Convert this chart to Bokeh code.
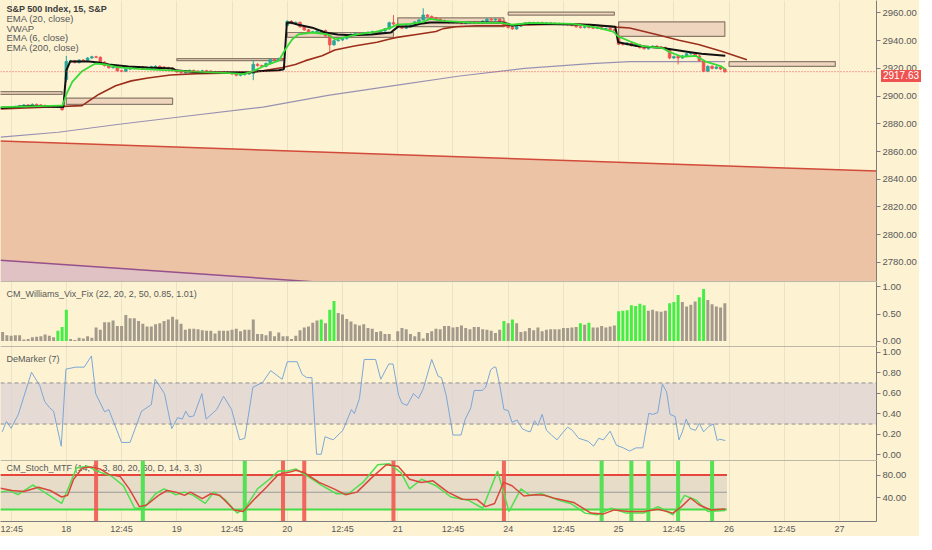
import numpy as np
from bokeh.plotting import figure
from bokeh.layouts import column
from bokeh.models import Range1d, FixedTicker, PrintfTickFormatter, Span, Div, BoxAnnotation
from bokeh.core.properties import value
from bokeh.embed import file_html
from bokeh.resources import INLINE

# ---------------- data (bar index 0 = 9:30 bar of the 18th, 26 bars a session) ----------------
first_bar = -15
closes = (
    # 17th (afternoon)
    [2891.5, 2891.8, 2892.0, 2892.4, 2893.0, 2893.6, 2893.3, 2894.0, 2893.6, 2893.2,
     2892.6, 2892.2, 2892.0, 2892.4, 2890.2]
    # 18th
    + [2925.0, 2925.5, 2924.2, 2926.0, 2925.5, 2927.5, 2928.4, 2928.0, 2924.5, 2922.0,
       2920.5, 2921.0, 2918.3, 2918.0, 2919.5, 2920.0, 2920.5, 2921.0, 2919.5, 2920.0,
       2921.2, 2921.5, 2921.0, 2920.5, 2920.0, 2918.8]
    # 19th
    + [2917.5, 2917.0, 2918.0, 2918.5, 2918.0, 2917.8, 2918.3, 2918.0, 2917.5, 2917.0,
       2917.3, 2916.8, 2917.0, 2916.0, 2915.0, 2915.5, 2916.0, 2916.3, 2923.0, 2922.0,
       2921.5, 2923.5, 2926.5, 2926.0, 2927.0, 2926.5]
    # 20th
    + [2954.0, 2952.5, 2953.2, 2950.0, 2947.8, 2946.0, 2946.5, 2947.0, 2947.3, 2943.5,
       2937.0, 2940.0, 2940.5, 2941.5, 2943.5, 2944.5, 2945.2, 2944.8, 2945.5, 2946.0,
       2946.5, 2946.2, 2947.0, 2948.5, 2953.0, 2952.0]
    # 21st
    + [2950.0, 2949.0, 2950.5, 2951.5, 2953.5, 2955.0, 2958.5, 2957.5, 2956.5, 2955.5,
       2954.5, 2953.5, 2953.0, 2953.5, 2953.0, 2952.5, 2953.0, 2953.2, 2953.0, 2952.8,
       2954.0, 2955.5, 2955.0, 2955.5, 2954.0, 2950.5]
    # 24th
    + [2949.5, 2948.5, 2950.5, 2952.0, 2952.5, 2953.0, 2952.8, 2953.0, 2952.5, 2952.8,
       2952.5, 2952.0, 2952.3, 2951.8, 2951.5, 2951.0, 2950.0, 2949.5, 2950.0, 2949.5,
       2949.0, 2949.3, 2948.5, 2948.8, 2948.0, 2947.5]
    # 25th
    + [2937.5, 2937.2, 2938.3, 2936.5, 2937.0, 2935.0, 2934.2, 2935.5, 2936.0, 2935.5,
       2935.0, 2934.0, 2927.5, 2928.5, 2927.5, 2929.0, 2930.5, 2931.0, 2929.0, 2925.5,
       2918.0, 2921.5, 2920.0, 2921.0, 2919.5, 2917.63]
)
first_open = 2891.2
gap_opens = {0: 2912.0, 52: 2951.0, 130: 2943.5}
long_wicks = {0: (2929.0, 2910.0), 44: (2926.0, 2911.5), 62: (2943.8, 2932.0),
              77: (2958.5, 2951.0), 84: (2963.4, 2954.5), 144: (2929.5, 2922.8)}
last_price = 2917.63

ema20_x = [-15.5, 3.7, 7.6, 11.6, 15.3, 19.2, 24.5, 30.8, 43.1, 46.3, 50.9, 53.9, 56.3, 60.2,
           63.2, 67.8, 73.1, 76.4, 77.8, 82.4, 87.0, 88.7, 91.7, 96.3, 102.5, 119.4, 125.7,
           129.6, 132.6, 138.9, 144.2, 148.8, 154.2, 160.2]
ema20_y = [2890.7, 2893.1, 2901.2, 2907.5, 2911.0, 2913.1, 2915.2, 2916.2, 2916.9, 2918.3,
           2920.7, 2922.8, 2925.6, 2929.1, 2933.3, 2936.1, 2938.9, 2941.4, 2942.4, 2944.5,
           2946.6, 2948.7, 2950.1, 2950.8, 2950.8, 2952.2, 2950.8, 2949.8, 2949.1, 2944.5,
           2940.3, 2937.2, 2932.3, 2926.3]

vwap_x = [-15.5, -8.6, -0.7, 0.0, 0.9, 5.3, 7.6, 10.0, 14.6, 19.2, 25.0, 25.7, 30.8, 43.1,
          45.1, 50.0, 51.2, 51.9, 52.8, 54.6, 57.9, 60.9, 63.9, 67.1, 71.8, 76.4, 77.5, 78.2,
          81.0, 83.3, 85.6, 102.5, 103.9, 104.9, 107.9, 123.4, 129.2, 129.9, 134.3, 140.3,
          141.9, 146.5, 149.5, 155.1]
vwap_y = [2891.4, 2892.8, 2892.1, 2918.7, 2924.9, 2924.9, 2924.2, 2922.8, 2921.4, 2920.7,
          2920.0, 2918.7, 2917.3, 2917.3, 2918.0, 2918.7, 2919.4, 2952.9, 2953.1, 2951.5,
          2949.4, 2945.9, 2944.5, 2944.0, 2944.5, 2945.9, 2948.7, 2950.3, 2950.3, 2952.2,
          2953.1, 2953.1, 2952.2, 2950.8, 2952.2, 2951.5, 2950.1, 2938.9, 2936.1, 2934.7,
          2934.0, 2931.9, 2930.5, 2929.1]

ema6_x = [-15.5, -1.6, -0.9, 0.0, 1.4, 3.7, 6.0, 6.9, 9.3, 12.3, 16.9, 23.1, 27.8, 38.4,
          41.7, 44.0, 46.3, 50.0, 51.6, 53.2, 54.6, 57.9, 61.6, 63.2, 65.5, 68.5, 73.1, 76.4,
          77.8, 81.0, 84.0, 85.6, 88.7, 96.3, 102.5, 104.9, 109.5, 119.4, 125.0, 128.7,
          129.9, 132.6, 135.6, 140.3, 141.9, 144.9, 148.1, 150.5, 154.2, 155.1]
ema6_y = [2892.1, 2893.1, 2893.1, 2901.2, 2910.3, 2918.0, 2922.1, 2923.5, 2922.8, 2920.7,
          2919.7, 2918.7, 2918.0, 2916.6, 2915.9, 2918.0, 2921.4, 2925.6, 2934.0, 2941.0,
          2944.5, 2945.9, 2944.5, 2941.0, 2942.4, 2944.5, 2946.6, 2949.4, 2951.5, 2952.2,
          2953.6, 2955.7, 2954.3, 2952.9, 2952.9, 2951.5, 2952.9, 2952.2, 2949.4, 2946.6,
          2943.1, 2939.6, 2936.1, 2934.7, 2931.9, 2928.4, 2929.1, 2924.9, 2921.4, 2919.4]

ema200_x = [-15.5, -1.9, 12.0, 27.1, 46.3, 61.6, 77.1, 92.6, 107.9, 123.4, 132.6, 155.1]
ema200_y = [2870.4, 2873.9, 2879.5, 2885.1, 2892.1, 2900.5, 2907.5, 2914.5, 2920.0, 2923.5,
            2924.9, 2924.9]

band_x = [-15.5, 190.7]
band_upper = [2867.6, 2845.9]
band_lower = [2781.6, 2737.9]

box_start = [-26, 0, 26, 52, 78, 104, 130, 156]
box_top = [2903.3, 2898.6, 2927.0, 2945.9, 2956.4, 2960.6, 2953.6, 2924.9]
box_bottom = [2901.2, 2894.0, 2925.6, 2942.4, 2950.1, 2958.5, 2943.1, 2921.4]

vix = (
    [0.17, 0.11, 0.10, 0.11, 0.11, 0.03, 0.04, 0.07, 0.08, 0.09, 0.12, 0.10, 0.07, 0.19, 0.26]
    + [0.58, 0.04, 0.02, 0.06, 0.05, 0.09, 0.06, 0.25, 0.21, 0.35, 0.35, 0.38, 0.28, 0.28,
       0.48, 0.42, 0.42, 0.37, 0.32, 0.27, 0.27, 0.31, 0.33, 0.37, 0.40, 0.45]
    + [0.40, 0.32, 0.21, 0.23, 0.23, 0.22, 0.20, 0.19, 0.19, 0.14, 0.19, 0.19, 0.19, 0.21,
       0.23, 0.18, 0.21, 0.21, 0.40, 0.13, 0.13, 0.11, 0.18, 0.09, 0.16, 0.09]
    + [0.09, 0.04, 0.10, 0.20, 0.25, 0.27, 0.34, 0.38, 0.40, 0.33, 0.58, 0.74, 0.52, 0.49,
       0.41, 0.36, 0.31, 0.29, 0.31, 0.24, 0.23, 0.17, 0.18, 0.13, 0.13, 0.01]
    + [0.18, 0.24, 0.22, 0.13, 0.09, 0.17, 0.05, 0.15, 0.18, 0.23, 0.22, 0.28, 0.28, 0.25,
       0.26, 0.29, 0.24, 0.22, 0.26, 0.26, 0.22, 0.21, 0.19, 0.15, 0.21, 0.37]
    + [0.33, 0.40, 0.33, 0.17, 0.18, 0.24, 0.20, 0.25, 0.18, 0.21, 0.22, 0.22, 0.22, 0.24,
       0.24, 0.25, 0.26, 0.33, 0.30, 0.34, 0.25, 0.25, 0.28, 0.25, 0.27, 0.29]
    + [0.55, 0.56, 0.57, 0.66, 0.65, 0.69, 0.66, 0.56, 0.58, 0.55, 0.54, 0.56, 0.70, 0.72,
       0.85, 0.72, 0.64, 0.67, 0.73, 0.81, 0.96, 0.76, 0.68, 0.64, 0.62, 0.70]
)
vix_green = [-2, -1, 0, 60, 62, 63, 103, 105, 121, 123, 130, 131, 132, 133, 134, 135, 136,
             142, 143, 144, 149, 150]

dem_x = [-15.1, -14.1, -13.0, -11.3, -8.2, -6.25, -5.1, -3.9, -3.0, -1.2, -0.1, 2.2, 4.2, 5.9,
         6.9, 9.0, 10.0, 13.0, 15.0, 17.7, 20.0, 20.9, 23.1, 24.8, 26.2, 27.3, 28.1, 28.9, 30.0,
         31.9, 32.9, 35.4, 37.0, 38.9, 40.8, 42.0, 43.9, 46.2, 48.1, 50.8, 52.0, 54.3, 55.5,
         56.6, 57.8, 58.9, 60.0, 60.9, 62.8, 65.1, 67.1, 67.8, 69.0, 70.1, 72.8, 74.0, 75.9,
         76.9, 78.2, 79.0, 80.2, 81.7, 82.9, 84.0, 86.0, 87.5, 88.3, 89.4, 91.0, 92.9, 93.9,
         95.2, 96.0, 97.9, 98.7, 99.9, 100.7, 101.1, 101.9, 103.0, 104.0, 104.9, 106.1, 107.3,
         108.4, 109.2, 110.2, 111.0, 112.0, 113.0, 114.2, 115.5, 116.8, 118.0, 119.1, 120.6,
         121.8, 122.9, 124.1, 125.3, 126.4, 128.0, 129.5, 131.1, 132.6, 134.1, 135.7, 137.1,
         138.0, 139.2, 140.3, 141.3, 142.1, 143.3, 144.2, 145.0, 145.9, 146.9, 148.1, 149.0,
         150.0, 151.2, 152.3, 153.2, 153.8, 155.1]
dem_y = [0.224, 0.326, 0.258, 0.394, 0.804, 0.674, 0.519, 0.457, 0.425, 0.084, 0.835, 0.854,
         0.854, 0.963, 0.596, 0.419, 0.441, 0.121, 0.121, 0.425, 0.488, 0.736, 0.596, 0.255,
         0.363, 0.348, 0.425, 0.370, 0.379, 0.596, 0.348, 0.441, 0.571, 0.441, 0.146, 0.161,
         0.658, 0.705, 0.820, 0.736, 0.907, 0.907, 0.783, 0.752, 0.752, 0.006, 0.006, 0.177,
         0.146, 0.239, 0.441, 0.401, 0.550, 0.929, 0.929, 0.736, 0.885, 0.885, 0.581, 0.503,
         0.481, 0.596, 0.550, 0.643, 0.929, 0.767, 0.752, 0.581, 0.193, 0.193, 0.348, 0.457,
         0.627, 0.627, 0.658, 0.829, 0.854, 0.854, 0.705, 0.441, 0.432, 0.317, 0.339, 0.255,
         0.233, 0.224, 0.332, 0.286, 0.394, 0.239, 0.193, 0.146, 0.214, 0.270, 0.239, 0.161,
         0.146, 0.130, 0.084, 0.161, 0.146, 0.230, 0.093, 0.068, 0.037, 0.068, 0.068, 0.404,
         0.394, 0.410, 0.689, 0.612, 0.394, 0.373, 0.146, 0.224, 0.348, 0.255, 0.239, 0.307,
         0.224, 0.276, 0.301, 0.140, 0.152, 0.140]

stoch_k_x = [-15.5, -13.4, -11.4, -7.9, -5.2, -1.1, 0.7, 2.4, 5.1, 7.2, 10.6, 13.4, 16.1, 18.2,
             21.0, 23.0, 25.8, 27.8, 29.9, 32.7, 34.7, 37.5, 40.2, 42.3, 45.0, 47.8, 49.9, 51.9,
             54.0, 56.7, 60.2, 63.6, 66.4, 69.8, 73.3, 76.0, 78.8, 80.8, 83.6, 87.0, 90.5, 94.6,
             98.0, 101.5, 104.2, 107.0, 109.1, 111.8, 115.9, 118.7, 122.1, 124.9, 128.3, 131.8,
             135.9, 139.3, 142.8, 145.5, 148.3, 151.0, 155.1]
stoch_k_y = [50.2, 53.0, 45.7, 62.6, 50.2, 30.5, 61.4, 92.4, 95.2, 86.8, 78.3, 61.4, 22.1, 22.1,
             47.4, 55.8, 45.7, 50.2, 44.6, 30.5, 50.2, 36.1, 13.6, 24.9, 55.8, 72.7, 86.8, 86.8,
             90.7, 78.3, 61.4, 47.4, 47.4, 67.1, 98.0, 99.7, 83.9, 55.8, 72.7, 61.4, 41.7, 36.1,
             22.1, 86.8, 16.4, 55.8, 44.6, 47.4, 36.1, 30.5, 13.6, 10.8, 22.1, 13.6, 13.6, 24.9,
             10.8, 44.6, 36.1, 16.4, 18.0]
stoch_d_x = [-15.5, -12.8, -10.0, -6.6, -3.8, -1.1, 0.3, 1.7, 3.8, 5.8, 7.9, 10.0, 12.7, 14.8,
             17.2, 18.9, 21.7, 23.7, 25.8, 27.8, 29.2, 32.0, 34.0, 36.1, 39.5, 41.6, 44.4, 47.1,
             49.9, 52.6, 54.0, 56.1, 59.5, 63.0, 65.7, 68.4, 71.9, 75.3, 78.1, 80.8, 83.6, 86.3,
             89.8, 93.2, 96.7, 98.7, 100.8, 102.9, 104.9, 107.7, 110.4, 112.5, 115.2, 119.4,
             123.5, 126.3, 129.0, 132.4, 135.9, 139.3, 142.8, 144.8, 146.9, 149.0, 151.7, 155.1]
stoch_d_y = [57.0, 53.0, 51.3, 58.6, 53.0, 41.7, 44.6, 72.7, 92.4, 94.1, 90.7, 81.1, 77.2, 55.8,
             24.9, 27.7, 44.6, 53.0, 50.2, 44.6, 50.2, 38.9, 47.4, 44.6, 19.2, 16.4, 38.9, 58.6,
             81.1, 85.1, 88.4, 83.9, 67.1, 55.8, 45.7, 50.2, 75.5, 98.0, 95.2, 72.7, 67.1, 69.9,
             50.2, 37.8, 37.2, 24.9, 30.5, 67.1, 61.4, 43.4, 45.7, 44.6, 38.9, 32.2, 13.6, 11.9,
             19.2, 16.4, 16.4, 20.4, 13.6, 24.9, 40.0, 27.7, 19.2, 20.9]
stoch_upper, stoch_mid, stoch_lower = 80, 50, 20
red_signals = [7, 51, 56, 77, 103]
green_signals = [18, 42, 126, 133, 137, 144, 152]

day_starts = [0, 26, 52, 78, 104, 130, 156, 182]
day_labels = ["18", "19", "20", "21", "24", "25", "26", "27"]
midday_ticks = [-13, 13, 39, 65, 91, 117, 143, 169]
price_ticks = [2780, 2800, 2820, 2840, 2860, 2880, 2900, 2920, 2940, 2960]
vix_ticks = [0.0, 0.5, 1.0]
dem_ticks = [0.0, 0.2, 0.4, 0.6, 0.8, 1.0]
stoch_ticks = [40, 80]

# ---------------- style ----------------
BG = "#fdf3d3"
GRID = "#ece2c8"
AXIS = "#7d7d7d"
TXT = "#585858"
FONT = "Liberation Sans"
UP, DOWN = "#26a69a", "#ef5350"
FRAME_W = 876
RIGHT_W = 40
MAIN_H = 281
main_range = Range1d(2766.2, 2969.0)

x_range = Range1d(-15.5, 190.7)
time_ticks = sorted(day_starts + midday_ticks)
time_labels = {t: "12:45" for t in midday_ticks}
time_labels.update({t: lab for t, lab in zip(day_starts, day_labels)})


def make_panel(height, yr, ticks, bottom=False):
    p = figure(frame_width=FRAME_W, frame_height=height, x_range=x_range, y_range=yr,
               output_backend="svg", toolbar_location=None,
               y_axis_location="right", x_axis_location="below" if bottom else None,
               min_border_left=0, min_border_right=RIGHT_W, min_border_top=0,
               min_border_bottom=13 if bottom else 0,
               background_fill_color=BG, border_fill_color=BG, outline_line_color=None)
    ax = p.yaxis[0]
    ax.ticker = FixedTicker(ticks=ticks)
    ax.formatter = PrintfTickFormatter(format="%.2f")
    ax.major_label_text_font = FONT
    ax.major_label_text_font_size = "9.5px"
    ax.major_label_text_color = TXT
    ax.axis_line_color = AXIS
    ax.major_tick_line_color = AXIS
    ax.major_tick_out = 4
    ax.major_tick_in = 0
    ax.minor_tick_line_color = None
    ax.major_label_standoff = 2
    p.ygrid.visible = False
    p.xgrid.ticker = FixedTicker(ticks=time_ticks)
    p.xgrid.grid_line_color = GRID
    if bottom:
        xa = p.xaxis[0]
        xa.ticker = FixedTicker(ticks=time_ticks)
        xa.major_label_overrides = time_labels
        xa.major_label_text_font = FONT
        xa.major_label_text_font_size = "9px"
        xa.major_label_text_color = TXT
        xa.axis_line_color = AXIS
        xa.major_tick_out = 0
        xa.major_tick_in = 0
        xa.minor_tick_line_color = None
        xa.major_label_standoff = 2
    return p


def top_rule(p):
    p.add_layout(Span(location=p.y_range.end, dimension="width", line_color=AXIS, line_width=1))


# ---------------- main price panel ----------------
main = make_panel(MAIN_H, main_range, price_ticks)
main.varea(x=band_x, y1=band_lower, y2=band_upper, fill_color="#ecc3a4")
main.varea(x=band_x, y1=[2600, 2600], y2=band_lower, fill_color="#e0c2c4")
main.line(band_x, band_upper, line_color="#d24a3a", line_width=1.5)
main.line(band_x, band_lower, line_color="#96508c", line_width=1.5)

main.quad(left=box_start, right=[s + 25 for s in box_start], top=box_top, bottom=box_bottom,
          fill_color="#efd5be", line_color="#8a7b6a", line_width=1.2)

main.add_layout(Span(location=last_price, dimension="width", line_color="#e85050",
                     line_dash="1 2", line_width=1))
main.line(ema200_x, ema200_y, line_color="#9a91b2", line_width=1.2)

bars = np.arange(first_bar, first_bar + len(closes))
c = np.array(closes)
o = np.empty_like(c)
o[0] = first_open
o[1:] = c[:-1]
for k, v in gap_opens.items():
    o[k - first_bar] = v
body_top = np.maximum(o, c)
body_bot = np.minimum(o, c)
hi = body_top + 0.7
lo = body_bot - 0.7
for k, (h, l) in long_wicks.items():
    hi[k - first_bar] = h
    lo[k - first_bar] = l
colors = [UP if cc >= oo else DOWN for oo, cc in zip(o, c)]
main.segment(x0=bars, y0=hi, x1=bars, y1=lo, line_color=colors, line_width=1)
main.vbar(x=bars, width=0.62, top=body_top, bottom=body_bot, fill_color=colors,
          line_color=colors, line_width=0.8)

main.line(ema20_x, ema20_y, line_color="#9c2f1c", line_width=1.6)
main.line(vwap_x, vwap_y, line_color="#111111", line_width=2)
main.line(ema6_x, ema6_y, line_color="#35dc35", line_width=1.8)

legend_x = -14.1
main.text(x=[legend_x], y=[2962.7], text=["S&P 500 Index, 15, S&P"], text_font=value(FONT),
          text_font_size="9px", text_font_style="bold", text_color="#3c3c3c",
          text_baseline="middle")
main.text(x=[legend_x] * 4, y=[2955.7, 2948.9, 2942.2, 2935.4],
          text=["EMA (20, close)", "VWAP", "EMA (6, close)", "EMA (200, close)"],
          text_font=value(FONT), text_font_size="9.5px", text_color=TXT, text_baseline="middle")

# last-price tag sitting on the price axis (outside the frame, so an HTML box)
tag_top = (main_range.end - last_price) / (main_range.end - main_range.start) * MAIN_H - 6
price_tag = Div(text=f"{last_price:.2f}",
                styles={"position": "absolute", "left": f"{FRAME_W}px",
                        "top": f"{tag_top:.0f}px", "width": f"{RIGHT_W}px",
                        "text-align": "center", "background-color": "#ef5350",
                        "color": "white", "font-family": FONT, "font-size": "10px",
                        "line-height": "12px", "z-index": "5"})

# ---------------- Williams Vix Fix ----------------
vixp = make_panel(65, Range1d(-0.1, 1.1), vix_ticks)
top_rule(vixp)
vixp.text(x=[legend_x], y=[0.87], text=["CM_Williams_Vix_Fix (22, 20, 2, 50, 0.85, 1.01)"],
          text_font=value(FONT), text_font_size="9px", text_color=TXT, text_baseline="middle")
vix_colors = ["#44ee44" if b in vix_green else "#a39a8c" for b in bars]
vixp.vbar(x=bars, width=0.7, top=vix, bottom=0, fill_color=vix_colors, line_color=None)

# ---------------- DeMarker ----------------
dem = make_panel(114, Range1d(-0.055, 1.055), dem_ticks)
top_rule(dem)
dem.add_layout(BoxAnnotation(bottom=0.3, top=0.7, fill_color="#ddd2d6", fill_alpha=0.75,
                             line_color=None, level="underlay"))
for lvl in (0.3, 0.7):
    dem.add_layout(Span(location=lvl, dimension="width", line_color="#8f8f8f",
                        line_dash="4 3", line_width=1))
dem.text(x=[legend_x], y=[0.93], text=["DeMarker (7)"], text_font=value(FONT),
         text_font_size="9px", text_color=TXT, text_baseline="middle")
dem.line(dem_x, dem_y, line_color="#7aa7d6", line_width=1)

# ---------------- CM Stoch MTF ----------------
st = make_panel(61, Range1d(-1.0, 105.3), stoch_ticks, bottom=True)
top_rule(st)
last_bar = float(bars[-1]) + 0.5
st.varea(x=[x_range.start, last_bar], y1=[stoch_lower] * 2, y2=[stoch_upper] * 2,
         fill_color="#e6dcc8")
st.text(x=[legend_x], y=[91.8], text=["CM_Stoch_MTF (14, 3, 3, 80, 20, 60, D, 14, 3, 3)"],
        text_font=value(FONT), text_font_size="9px", text_color=TXT, text_baseline="middle")
st.segment(x0=[x_range.start], x1=[last_bar], y0=[stoch_mid], y1=[stoch_mid],
           line_color="#9a9a9a", line_width=1.2)
st.segment(x0=[x_range.start], x1=[last_bar], y0=[stoch_upper], y1=[stoch_upper],
           line_color="#e8453c", line_width=2)
st.segment(x0=[x_range.start], x1=[last_bar], y0=[stoch_lower], y1=[stoch_lower],
           line_color="#44dd44", line_width=2)
st.vbar(x=red_signals, width=0.95, top=105.3, bottom=-1.0, fill_color="#ef5a50",
        line_color=None, fill_alpha=0.9)
st.vbar(x=green_signals, width=0.95, top=105.3, bottom=-1.0, fill_color="#4ee04e",
        line_color=None, fill_alpha=0.95)
st.line(stoch_k_x, stoch_k_y, line_color="#4fe04f", line_width=1.5)
st.line(stoch_d_x, stoch_d_y, line_color="#d9473a", line_width=1.5)

layout = column(main, vixp, dem, st, price_tag, spacing=0,
                styles={"background-color": BG, "position": "relative"})
open("out.html", "w").write(file_html(layout, INLINE))
